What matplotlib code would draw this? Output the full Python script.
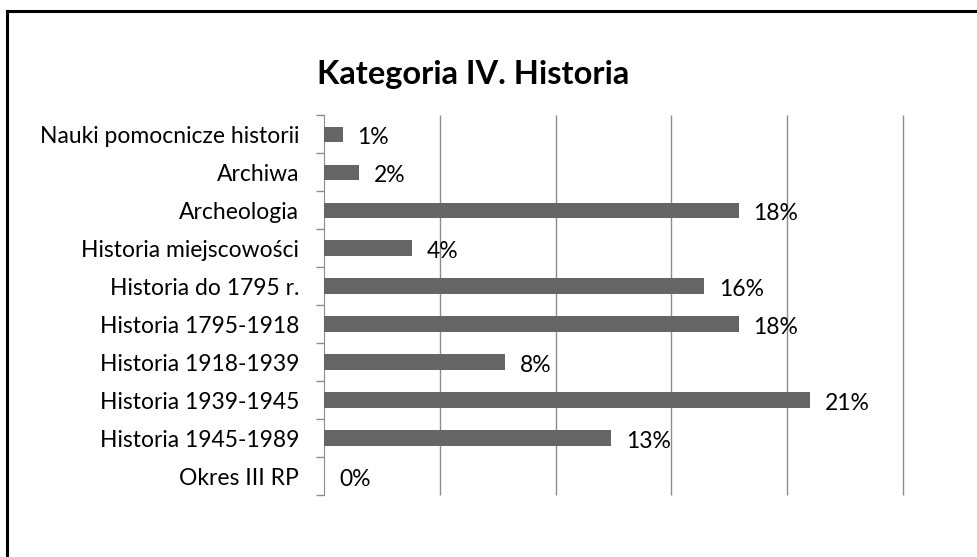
import matplotlib.pyplot as plt
from matplotlib.lines import Line2D

categories = ['Nauki pomocnicze historii', 'Archiwa', 'Archeologia',
              'Historia miejscowości', 'Historia do 1795 r.', 'Historia 1795-1918',
              'Historia 1918-1939', 'Historia 1939-1945', 'Historia 1945-1989',
              'Okres III RP']
values = [0.8, 1.5, 17.9, 3.8, 16.4, 17.9, 7.8, 21.0, 12.4, 0.0]
labels = ['1%', '2%', '18%', '4%', '16%', '18%', '8%', '21%', '13%', '0%']
gridlines = [5, 10, 15, 20, 25]

plt.rcParams['font.family'] = ['Lato', 'DejaVu Sans']

fig = plt.figure(figsize=(9.77, 5.57), dpi=100)
ax = fig.add_axes([0.3316, 0.1113, 0.5926, 0.682])

pos = list(range(len(categories)))
ax.barh(pos, values, height=0.4, color='#656565', zorder=3)
for p, v, lab in zip(pos, values, labels):
    ax.text(v + 0.65, p + 0.08, lab, va='center', ha='left', fontsize=16.5, zorder=4)

ax.set_xlim(0, 25)
ax.set_ylim(len(categories) - 0.5, -0.5)
ax.set_xticks([])
ax.vlines(gridlines, len(categories) - 0.5, -0.5, color='#8c8c8c',
          linewidth=1.0, zorder=0, clip_on=False)

ax.set_yticks(pos)
ax.set_yticklabels(categories, fontsize=16.5)
ax.set_yticks([p + 0.5 for p in [-1] + pos], minor=True)
ax.tick_params(axis='y', which='major', length=0, pad=18)
ax.tick_params(axis='y', which='minor', length=6, color='#8c8c8c', width=1)

for s in ['top', 'right', 'bottom']:
    ax.spines[s].set_visible(False)
ax.spines['left'].set_color('#8c8c8c')

fig.text(0.484, 0.866, 'Kategoria IV. Historia', ha='center', va='center',
         fontsize=23.5, fontweight='bold')

# outer frame: only left and top edges are visible in the crop
fig.add_artist(Line2D([0.0075, 0.0075], [0.981, 0.0], transform=fig.transFigure,
                      color='black', linewidth=2.2))
fig.add_artist(Line2D([0.0075, 1.0], [0.981, 0.981], transform=fig.transFigure,
                      color='black', linewidth=2.2))

plt.savefig('out.png', dpi=100)
